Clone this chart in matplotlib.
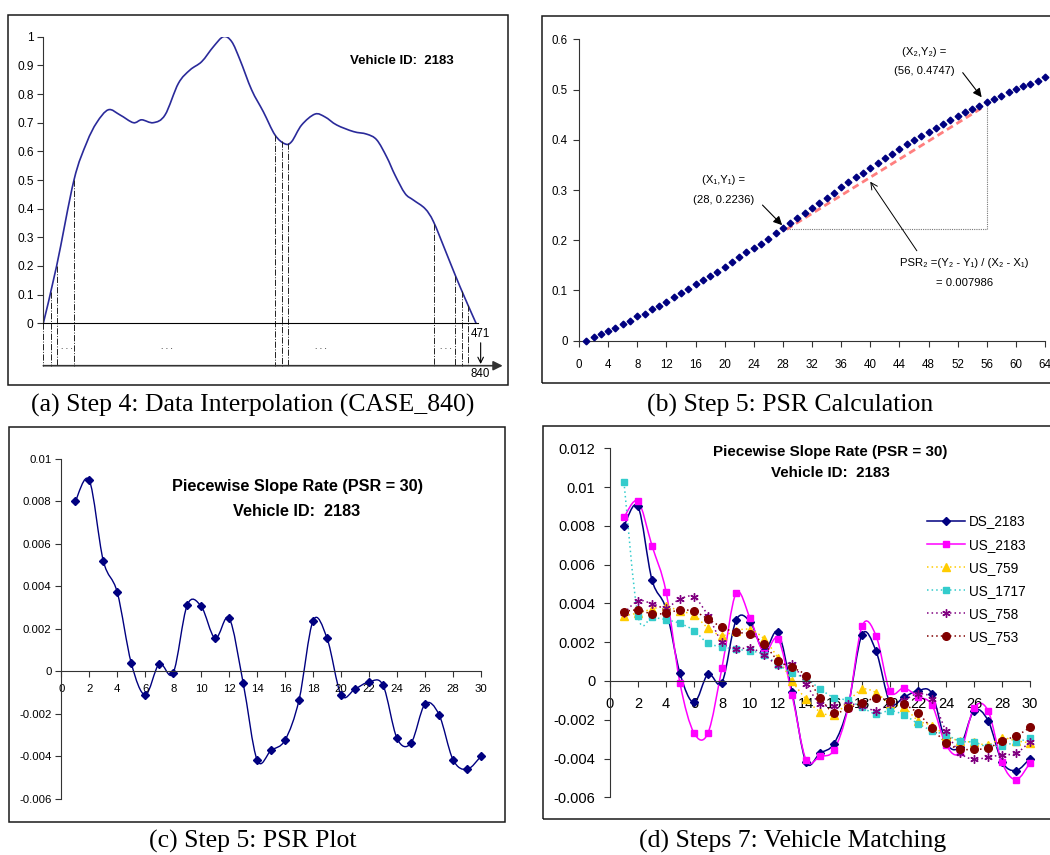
import numpy as np
import matplotlib
matplotlib.use('Agg')
import matplotlib.pyplot as plt
from matplotlib.path import Path
from matplotlib.patches import PathPatch, Rectangle
from matplotlib.lines import Line2D

plt.rcParams['font.family'] = ['Liberation Sans', 'DejaVu Sans']

W, H = 1050, 855

# ---- (a) interpolated speed profile (normalised) ----
interp_x = [0, 14.5, 33.4, 47.2, 58.1, 70.8, 83.5, 98.0, 107.1, 119.8, 132.5, 147.0, 159.7,
            172.4, 185.1, 196.0, 205.0, 214.1, 226.8, 239.5, 252.2, 263.1, 270.3, 281.2,
            295.7, 306.6, 319.3, 337.5, 352.0, 362.9, 373.8, 382.8, 393.7, 402.8, 415.5,
            424.6, 437.3, 448.2, 459.0, 471]
interp_y = [0, 0.20, 0.50, 0.63, 0.70, 0.745, 0.727, 0.70, 0.71, 0.70, 0.727, 0.837, 0.884,
            0.913, 0.965, 1.0, 0.983, 0.919, 0.814, 0.738, 0.657, 0.626, 0.634, 0.692,
            0.73, 0.72, 0.692, 0.669, 0.66, 0.64, 0.58, 0.517, 0.453, 0.43, 0.40,
            0.355, 0.256, 0.169, 0.087, 0.0]
cut_x = [0, 8.0, 14.5, 33.4, 252.6, 259.5, 266.3, 425.7, 448.5, 455.8, 462.3]
dots_x = [25.4, 134.3, 302.3, 438.4]

# ---- (b) cumulative curve for PSR calculation ----
cum_x = list(range(1, 65))
cum_y = [0, 0.0066, 0.013, 0.019, 0.026, 0.034, 0.040, 0.049, 0.054, 0.064, 0.070, 0.078,
         0.087, 0.095, 0.103, 0.112, 0.121, 0.129, 0.137, 0.147, 0.157, 0.166, 0.176, 0.184,
         0.193, 0.203, 0.214, 0.2236, 0.234, 0.245, 0.255, 0.265, 0.275, 0.285, 0.294, 0.305,
         0.315, 0.325, 0.334, 0.343, 0.353, 0.363, 0.372, 0.382, 0.391, 0.399, 0.407, 0.415,
         0.424, 0.432, 0.440, 0.447, 0.455, 0.461, 0.467, 0.4747, 0.481, 0.487, 0.495, 0.501,
         0.507, 0.512, 0.517, 0.524]
x1, y1 = 28, 0.2236
x2, y2 = 56, 0.4747

# ---- (c)/(d) PSR series ----
psr_x = list(range(1, 31))
ds_2183 = [0.0080, 0.0090, 0.00521, 0.00372, 0.00039, -0.00111, 0.00035, -0.00008, 0.00312,
           0.00306, 0.00155, 0.00250, -0.00055, -0.00418, -0.00372, -0.00323, -0.00133,
           0.00239, 0.00155, -0.00111, -0.00083, -0.00050, -0.00066, -0.00316, -0.00338,
           -0.00154, -0.00204, -0.00416, -0.00462, -0.00400]
us_2183 = [0.00844, 0.00927, 0.00697, 0.00461, -0.00012, -0.00268, -0.00268, 0.00069, 0.00452,
           0.00325, 0.00146, 0.00217, -0.00072, -0.00406, -0.00389, -0.00356, -0.0014,
           0.00282, 0.00234, -0.00053, -0.00036, -0.00081, -0.00124, -0.00330, -0.00368,
           -0.00139, -0.00153, -0.00420, -0.00509, -0.00423]
us_759 = [0.00337, 0.0035, 0.00371, 0.00385, 0.0036, 0.0034, 0.00273, 0.00234, 0.0026,
          0.00265, 0.00217, 0.00119, 0.0, -0.00093, -0.00158, -0.00175, -0.00107, -0.00043,
          -0.0006, -0.0012, -0.00136, -0.00204, -0.0023, -0.00282, -0.0031, -0.00316,
          -0.0033, -0.00295, -0.00308, -0.0032]
us_1717 = [0.01025, 0.00337, 0.00328, 0.00316, 0.00297, 0.0026, 0.00194, 0.00177, 0.00163,
           0.00156, 0.00136, 0.00084, 0.0004, 0.00014, -0.00041, -0.00086, -0.001, -0.00136,
           -0.0017, -0.00153, -0.00175, -0.0022, -0.00256, -0.00278, -0.0031, -0.00316,
           -0.0034, -0.00333, -0.00316, -0.00295]
us_758 = [0.0035, 0.00413, 0.00399, 0.00377, 0.00423, 0.00432, 0.00337, 0.002, 0.00163,
          0.00172, 0.00134, 0.00083, 0.00086, -0.00017, -0.00119, -0.00127, -0.00119,
          -0.00127, -0.00153, -0.00119, -0.00098, -0.00067, -0.00093, -0.00258, -0.0037,
          -0.00404, -0.00393, -0.00381, -0.00373, -0.00313]
us_753 = [0.00358, 0.00366, 0.00346, 0.00349, 0.00366, 0.00359, 0.0032, 0.00277, 0.00251,
          0.00242, 0.00191, 0.00105, 0.0007, 0.00027, -0.00086, -0.00163, -0.00141, -0.00112,
          -0.00089, -0.00101, -0.0012, -0.00167, -0.00244, -0.00318, -0.00352, -0.00352,
          -0.00347, -0.00308, -0.00284, -0.0024]

psr_ticks = [0.012, 0.01, 0.008, 0.006, 0.004, 0.002, 0, -0.002, -0.004, -0.006]
psr_labels = ['0.012', '0.01', '0.008', '0.006', '0.004', '0.002', '0', '-0.002', '-0.004', '-0.006']


def box(l, t, r, b):
    return [l / W, 1 - b / H, (r - l) / W, (b - t) / H]


def smooth(ax, x, y, **kw):
    # excel-style smoothed line: bezier through the points
    pts = np.column_stack([x, y]).astype(float)
    n = len(pts)
    verts = [pts[0]]
    codes = [Path.MOVETO]
    for i in range(n - 1):
        p0 = pts[i - 1] if i > 0 else pts[i]
        p1, p2 = pts[i], pts[i + 1]
        p3 = pts[i + 2] if i + 2 < n else pts[i + 1]
        verts += [p1 + (p2 - p0) / 6, p2 - (p3 - p1) / 6, p2]
        codes += [Path.CURVE4] * 3
    ax.add_patch(PathPatch(Path(verts, codes), facecolor='none', **kw))


def frame(l, t, r, b):
    fig.add_artist(Rectangle((l / W, 1 - b / H), (r - l) / W, (b - t) / H,
                             transform=fig.transFigure, fill=False, ec='#1a1a1a', lw=1.1))


def caption(x, y, s):
    fig.text(x / W, 1 - y / H, s, ha='center', va='center', fontsize=18.5,
             family='Liberation Serif')


fig = plt.figure(figsize=(10.5, 8.55), dpi=100)

frame(8, 15, 508, 385)
frame(542, 16, 1056, 383)
frame(9, 427, 505, 822)
frame(543, 426, 1056, 819)
caption(253, 405, '(a) Step 4: Data Interpolation (CASE_840)')
caption(790, 405, '(b) Step 5: PSR Calculation')
caption(253, 841, '(c) Step 5: PSR Plot')
caption(793, 841, '(d) Steps 7: Vehicle Matching')

# ---------------- (a) ----------------
ax = fig.add_axes(box(43.3, 36.7, 477.9, 323.3))
ax.set_xlim(0, 473)
ax.set_ylim(0, 1)
smooth(ax, interp_x, interp_y, edgecolor='#2a2a9a', lw=1.2)
for cx in cut_x:
    top = np.interp(cx, interp_x, interp_y)
    ax.plot([cx, cx], [top, -0.148], color='#222222', lw=0.7, ls='-.', clip_on=False)
for dx in dots_x:
    ax.text(dx, -0.085, '. . .', ha='center', va='center', fontsize=6, clip_on=False)
ax.annotate('', xy=(500, -0.148), xytext=(0, -0.148), annotation_clip=False,
            arrowprops=dict(arrowstyle='-|>', color='#333333', lw=1.2, mutation_scale=14,
                            shrinkA=0, shrinkB=0))
ax.annotate('', xy=(476, -0.142), xytext=(476, -0.068), annotation_clip=False,
            arrowprops=dict(arrowstyle='->', color='black', lw=0.8, shrinkA=0, shrinkB=0))
ax.text(476, -0.037, '471', ha='center', va='center', fontsize=8.3)
ax.text(476, -0.177, '840', ha='center', va='center', fontsize=8.3)
ax.text(390, 0.915, 'Vehicle ID:  2183', ha='center', va='center', fontsize=9.5,
        fontweight='bold')
ax.set_yticks(np.arange(0, 1.01, 0.1))
ax.set_yticklabels(['0', '0.1', '0.2', '0.3', '0.4', '0.5', '0.6', '0.7', '0.8', '0.9', '1'])
ax.set_xticks([])
for s in ['top', 'right']:
    ax.spines[s].set_visible(False)
ax.spines['left'].set_color('#333333')
ax.spines['bottom'].set_color('black')
ax.tick_params(axis='y', direction='out', length=4, width=0.8, labelsize=8.6, pad=3,
               color='#333333')
ax.patch.set_alpha(0)

# ---------------- (b) ----------------
ax = fig.add_axes(box(579, 39.3, 1045, 340.7))
ax.set_xlim(0, 64)
ax.set_ylim(0, 0.6)
ax.plot([x1 + 0.5, x2 - 0.3], [y1 - 0.002, y2 - 0.008], color='#FF7F7F', lw=2.0,
        ls=(0, (2.5, 1.5)), zorder=2)
ax.plot([x1 + 0.5, x2, x2], [y1 - 0.002, y1 - 0.002, y2 - 0.008], color='#777777', lw=0.8,
        ls=(0, (1, 1)), zorder=1)
ax.plot(cum_x, cum_y, ls='none', marker='D', ms=3.4, color='#000080', zorder=3, clip_on=False)
ax.text(19.8, 0.320, '(X\u2081,Y\u2081) =', ha='center', va='center', fontsize=8.1)
ax.text(19.8, 0.280, '(28, 0.2236)', ha='center', va='center', fontsize=8.1)
ax.text(47.4, 0.575, '(X\u2082,Y\u2082) =', ha='center', va='center', fontsize=8.1)
ax.text(47.4, 0.5375, '(56, 0.4747)', ha='center', va='center', fontsize=8.1)
ax.text(52.9, 0.154, 'PSR\u2082 =(Y\u2082 - Y\u2081) / (X\u2082 - X\u2081)', ha='center',
        va='center', fontsize=8.1)
ax.text(52.9, 0.114, '= 0.007986', ha='center', va='center', fontsize=8.1)
ax.annotate('', xy=(27.9, 0.230), xytext=(25.2, 0.270),
            arrowprops=dict(arrowstyle='-|>', color='black', lw=0.8, mutation_scale=13,
                            shrinkA=0, shrinkB=0))
ax.annotate('', xy=(55.3, 0.4846), xytext=(52.7, 0.5336),
            arrowprops=dict(arrowstyle='-|>', color='black', lw=0.8, mutation_scale=13,
                            shrinkA=0, shrinkB=0))
ax.annotate('', xy=(40.0, 0.3166), xytext=(46.4, 0.179),
            arrowprops=dict(arrowstyle='->', color='black', lw=0.7, mutation_scale=12,
                            shrinkA=0, shrinkB=0))
ax.set_xticks(range(0, 65, 4))
ax.set_yticks(np.arange(0, 0.61, 0.1))
ax.set_yticklabels(['0', '0.1', '0.2', '0.3', '0.4', '0.5', '0.6'])
for s in ['top', 'right']:
    ax.spines[s].set_visible(False)
for s in ['left', 'bottom']:
    ax.spines[s].set_color('#333333')
ax.tick_params(direction='out', length=4.5, width=0.8, labelsize=8.3, color='#333333')
ax.tick_params(axis='x', pad=9)
ax.tick_params(axis='y', pad=3.5)
ax.patch.set_alpha(0)

# ---------------- (c) ----------------
ax = fig.add_axes(box(61.3, 459, 481, 798.7))
ax.set_xlim(0, 30)
ax.set_ylim(-0.006, 0.01)
smooth(ax, psr_x, ds_2183, edgecolor='#000080', lw=1.0)
ax.plot(psr_x, ds_2183, ls='none', marker='D', ms=4.5, color='#000080', clip_on=False)
fig.text(297 / W, 1 - 487 / H, 'Piecewise Slope Rate (PSR = 30)', ha='center', va='center',
         fontsize=11.7, fontweight='bold')
fig.text(297 / W, 1 - 511 / H, 'Vehicle ID:  2183', ha='center', va='center',
         fontsize=11.7, fontweight='bold')
ax.set_xticks(range(0, 31, 2))
ax.set_yticks(psr_ticks[1:])
ax.set_yticklabels(psr_labels[1:])
for s in ['top', 'right']:
    ax.spines[s].set_visible(False)
ax.spines['bottom'].set_position(('data', 0))
for s in ['left', 'bottom']:
    ax.spines[s].set_color('#333333')
ax.tick_params(direction='out', length=4, width=0.8, labelsize=8.2, color='#333333')
ax.tick_params(axis='x', pad=5)
ax.tick_params(axis='y', pad=3)
ax.patch.set_alpha(0)

# ---------------- (d) ----------------
ax = fig.add_axes(box(610, 448.3, 1030, 797.3))
ax.set_xlim(0, 30)
ax.set_ylim(-0.006, 0.012)
series = [
    ('DS_2183', ds_2183, '#000080', '-', 'D', 4.5),
    ('US_2183', us_2183, '#FF00FF', '-', 's', 5),
    ('US_759', us_759, '#FFCC00', (0, (1, 2)), '^', 6),
    ('US_1717', us_1717, '#33CCCC', (0, (1, 2)), 's', 5),
    ('US_758', us_758, '#800080', (0, (1, 2)), (6, 2, 0), 6),
    ('US_753', us_753, '#800000', (0, (1, 2)), 'o', 5.5),
]
handles = []
for name, vals, col, ls, mk, ms in series:
    smooth(ax, psr_x, vals, edgecolor=col, lw=1.1, ls=ls)
    ax.plot(psr_x, vals, ls='none', marker=mk, ms=ms, color=col, mec=col, clip_on=False)
    handles.append(Line2D([], [], color=col, ls=ls, lw=1.1, marker=mk, ms=ms, mec=col))
ax.legend(handles, [s[0] for s in series], loc='upper left', frameon=False,
          bbox_to_anchor=(927 / W, 1 - 514.5 / H), bbox_transform=fig.transFigure,
          fontsize=9.8, handlelength=2.8, handletextpad=0.3, labelspacing=0.67,
          borderpad=0, borderaxespad=0, markerscale=1)
fig.text(830 / W, 1 - 451.7 / H, 'Piecewise Slope Rate (PSR = 30)', ha='center', va='center',
         fontsize=10.9, fontweight='bold')
fig.text(830 / W, 1 - 472.7 / H, 'Vehicle ID:  2183', ha='center', va='center',
         fontsize=10.9, fontweight='bold')
ax.set_xticks(range(0, 31, 2))
ax.set_yticks(psr_ticks)
ax.set_yticklabels(psr_labels)
for s in ['top', 'right']:
    ax.spines[s].set_visible(False)
ax.spines['bottom'].set_position(('data', 0))
for s in ['left', 'bottom']:
    ax.spines[s].set_color('#333333')
ax.tick_params(direction='out', length=4.5, width=0.8, labelsize=10.5, color='#333333')
ax.tick_params(axis='x', pad=7)
ax.tick_params(axis='y', pad=6)
ax.patch.set_alpha(0)

fig.savefig('out.png', dpi=100)
